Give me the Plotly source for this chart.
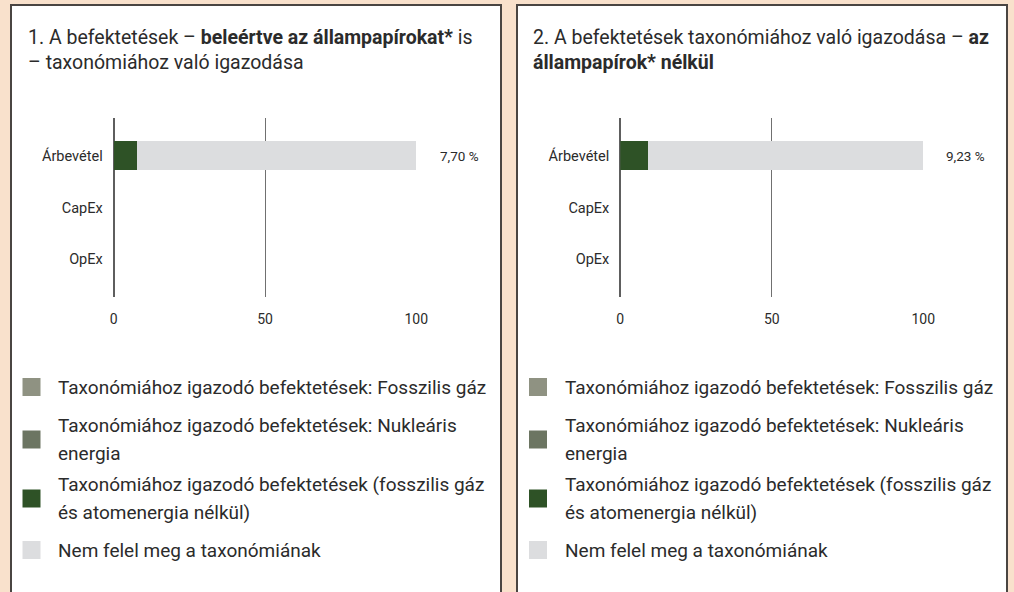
import plotly.graph_objects as go

W, H = 1014, 592

# ---------------- data ----------------
categories = ["Árbevétel", "CapEx", "OpEx"]
x_ticks = [0, 50, 100]

p1_fossil_gas = [0, None, None]
p1_nuclear = [0, None, None]
p1_aligned = [7.70, None, None]
p1_not_aligned = [92.30, None, None]

p2_fossil_gas = [0, None, None]
p2_nuclear = [0, None, None]
p2_aligned = [9.23, None, None]
p2_not_aligned = [90.77, None, None]

series_names = [
    "Taxonómiához igazodó befektetések: Fosszilis gáz",
    "Taxonómiához igazodó befektetések: Nukleáris energia",
    "Taxonómiához igazodó befektetések (fosszilis gáz és atomenergia nélkül)",
    "Nem felel meg a taxonómiának",
]
legend_lines = [
    ["Taxonómiához igazodó befektetések: Fosszilis gáz"],
    ["Taxonómiához igazodó befektetések: Nukleáris", "energia"],
    ["Taxonómiához igazodó befektetések (fosszilis gáz", "és atomenergia nélkül)"],
    ["Nem felel meg a taxonómiának"],
]
series_colors = ["#8F9282", "#6C7562", "#2E5226", "#DCDDDF"]

panel1_title = ["1. A befektetések – <b>beleértve az állampapírokat*</b> is",
                "– taxonómiához való igazodása"]
panel2_title = ["2. A befektetések taxonómiához való igazodása – <b>az</b>",
                "<b>állampapírok* nélkül</b>"]

# ---------------- style ----------------
FONT = "Roboto"
TXT = "#2B2B2B"
BG = "#F9E1CC"
BORDER = "#4A4542"


def px(x):
    return x / W


def py(y):
    return 1 - y / H


fig = go.Figure()

panels = [
    dict(series=[p1_fossil_gas, p1_nuclear, p1_aligned, p1_not_aligned], xa="x", ya="y",
         left=11, right=501, plot=(113.7, 416.3), title=panel1_title, title_x=26,
         label_x=481, mk_x=22.5, txt_x=56),
    dict(series=[p2_fossil_gas, p2_nuclear, p2_aligned, p2_not_aligned], xa="x2", ya="y2",
         left=517, right=1007, plot=(620.3, 923.3), title=panel2_title, title_x=531,
         label_x=987, mk_x=529, txt_x=563),
]

shapes = []
annotations = []

for pi, p in enumerate(panels):
    for si, (name, vals) in enumerate(zip(series_names, p["series"])):
        fig.add_trace(go.Bar(
            y=categories, x=vals, orientation="h", name=name,
            marker=dict(color=series_colors[si], line=dict(width=0)),
            width=0.57, xaxis=p["xa"], yaxis=p["ya"], showlegend=False,
            hoverinfo="x+name",
        ))
    shapes.append(dict(type="rect", xref="paper", yref="paper",
                       x0=px(p["left"]), x1=px(p["right"]), y0=py(5), y1=py(620),
                       line=dict(color=BORDER, width=2), fillcolor="white", layer="below"))
    for li, line in enumerate(p["title"]):
        annotations.append(dict(text=line, xref="paper", yref="paper",
                                x=px(p["title_x"]), y=py(37 + 26 * li),
                                xanchor="left", yanchor="middle", showarrow=False,
                                font=dict(family=FONT, size=19.5, color=TXT)))
    aligned = p["series"][2]
    for cat, v in zip(categories, aligned):
        if v is not None:
            annotations.append(dict(text=f"{v:.2f}".replace(".", ",") + " %",
                                    xref="paper", yref=p["ya"], x=px(p["label_x"]), y=cat,
                                    xanchor="right", yanchor="middle", showarrow=False,
                                    font=dict(family=FONT, size=13.5, color=TXT)))
    marker_y = [387, 439.5, 498.5, 550]
    for li, (lines, col) in enumerate(zip(legend_lines, series_colors)):
        cy = marker_y[li]
        shapes.append(dict(type="rect", xref="paper", yref="paper",
                           x0=px(p["mk_x"]), x1=px(p["mk_x"] + 18),
                           y0=py(cy - 9), y1=py(cy + 9),
                           line=dict(width=0), fillcolor=col, layer="above"))
        n = len(lines)
        for k, t in enumerate(lines):
            ly = cy + (k - (n - 1) / 2) * 28.5
            annotations.append(dict(text=t, xref="paper", yref="paper",
                                    x=px(p["txt_x"]), y=py(ly),
                                    xanchor="left", yanchor="middle", showarrow=False,
                                    font=dict(family=FONT, size=19, color=TXT)))

y_dom = [py(297), py(118)]
common_x = dict(range=[0, 100], tickvals=x_ticks, showgrid=True, gridcolor="#707070",
                gridwidth=1, zeroline=True, zerolinecolor="#5E5E5E", zerolinewidth=2,
                showline=False, ticks="", ticklabelstandoff=12, automargin=False,
                tickfont=dict(family=FONT, size=14, color=TXT), fixedrange=True)
common_y = dict(domain=y_dom, type="category", categoryorder="array", categoryarray=categories,
                range=[2.725, -0.725], showgrid=False, zeroline=False, showline=False,
                ticks="", ticklabelstandoff=10, automargin=False,
                tickfont=dict(family=FONT, size=14.5, color=TXT), fixedrange=True)

fig.update_layout(
    template="none",
    width=W, height=H, margin=dict(l=0, r=0, t=0, b=0, pad=0, autoexpand=False),
    paper_bgcolor=BG, plot_bgcolor="rgba(0,0,0,0)",
    barmode="stack", bargap=0.43, showlegend=False,
    font=dict(family=FONT, color=TXT),
    xaxis=dict(domain=[px(panels[0]["plot"][0]), px(panels[0]["plot"][1])], anchor="y", **common_x),
    yaxis=dict(anchor="x", **common_y),
    xaxis2=dict(domain=[px(panels[1]["plot"][0]), px(panels[1]["plot"][1])], anchor="y2", **common_x),
    yaxis2=dict(anchor="x2", **common_y),
    shapes=shapes, annotations=annotations,
)

fig.write_html("out.html", config={"displayModeBar": False},
               post_script="document.body.style.margin='0';document.body.style.overflow='hidden';")
